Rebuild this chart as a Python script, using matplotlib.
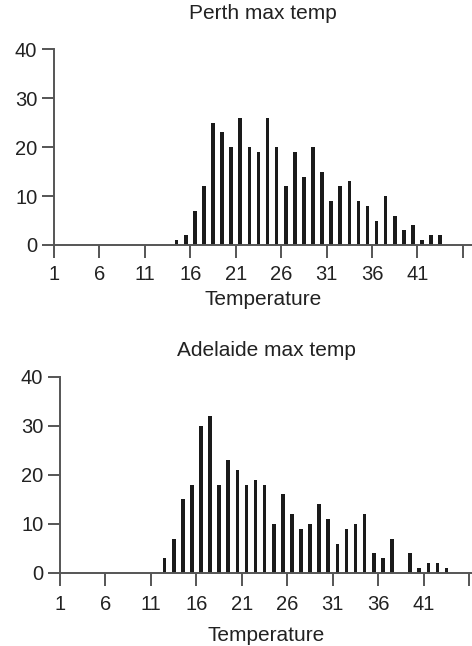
import numpy as np
import matplotlib.pyplot as plt

# DATA: daily max temperature counts, one bin per whole degree
perth_temps = np.arange(14, 44)
perth_counts = [1, 2, 7, 12, 25, 23, 20, 26, 20, 19, 26, 20, 12, 19, 14,
                20, 15, 9, 12, 13, 9, 8, 5, 10, 6, 3, 4, 1, 2, 2]

adelaide_temps = np.arange(12, 44)
adelaide_counts = [3, 7, 15, 18, 30, 32, 18, 23, 21, 18, 19, 18, 10, 16, 12,
                   9, 10, 14, 11, 6, 9, 10, 12, 4, 3, 7, 0, 4, 1, 2, 2, 1]

xticks = [1, 6, 11, 16, 21, 26, 31, 36, 41, 46]
xtick_labels = ["1", "6", "11", "16", "21", "26", "31", "36", "41", ""]
yticks = [0, 10, 20, 30, 40]

W, H = 472, 646
AXIS_COLOR = "#555555"
TEXT_COLOR = "#222222"
BAR_COLOR = "#1a1a1a"

plt.rcParams["font.family"] = ["Liberation Sans", "DejaVu Sans"]


def px_axes(fig, left, right, top, bottom):
    return fig.add_axes([left / W, 1 - bottom / H, (right - left) / W, (bottom - top) / H])


def draw_hist(ax, temps, counts, title, xmax, title_pad, tick_pad, label_pad):
    ax.bar(temps + 0.5, counts, width=0.4, color=BAR_COLOR, linewidth=0)
    ax.set_xlim(1, xmax)
    ax.set_ylim(0, 40)
    ax.set_xticks(xticks)
    ax.set_xticklabels(xtick_labels)
    ax.set_yticks(yticks)
    for side in ["top", "right"]:
        ax.spines[side].set_visible(False)
    for side in ["left", "bottom"]:
        ax.spines[side].set_color(AXIS_COLOR)
        ax.spines[side].set_linewidth(1.4)
    ax.tick_params(length=9, width=1.4, color=AXIS_COLOR, labelcolor=TEXT_COLOR,
                   labelsize=14.5)
    ax.tick_params(axis="x", pad=tick_pad)
    ax.tick_params(axis="y", pad=3)
    ax.set_title(title, fontsize=15, color=TEXT_COLOR, pad=title_pad)
    ax.set_xlabel("Temperature", fontsize=15, color=TEXT_COLOR, labelpad=label_pad)


def main():
    fig = plt.figure(figsize=(W / 100, H / 100), dpi=100, facecolor="white")
    ax1 = px_axes(fig, 54, 472, 49.3, 245)
    draw_hist(ax1, perth_temps, perth_counts, "Perth max temp", 47.0, 22, 5.5, 4)
    ax2 = px_axes(fig, 60, 472, 376.7, 573)
    draw_hist(ax2, adelaide_temps, adelaide_counts, "Adelaide max temp", 46.3, 15, 7, 8.5)
    fig.savefig("out.png", dpi=100)


if __name__ == "__main__":
    main()
